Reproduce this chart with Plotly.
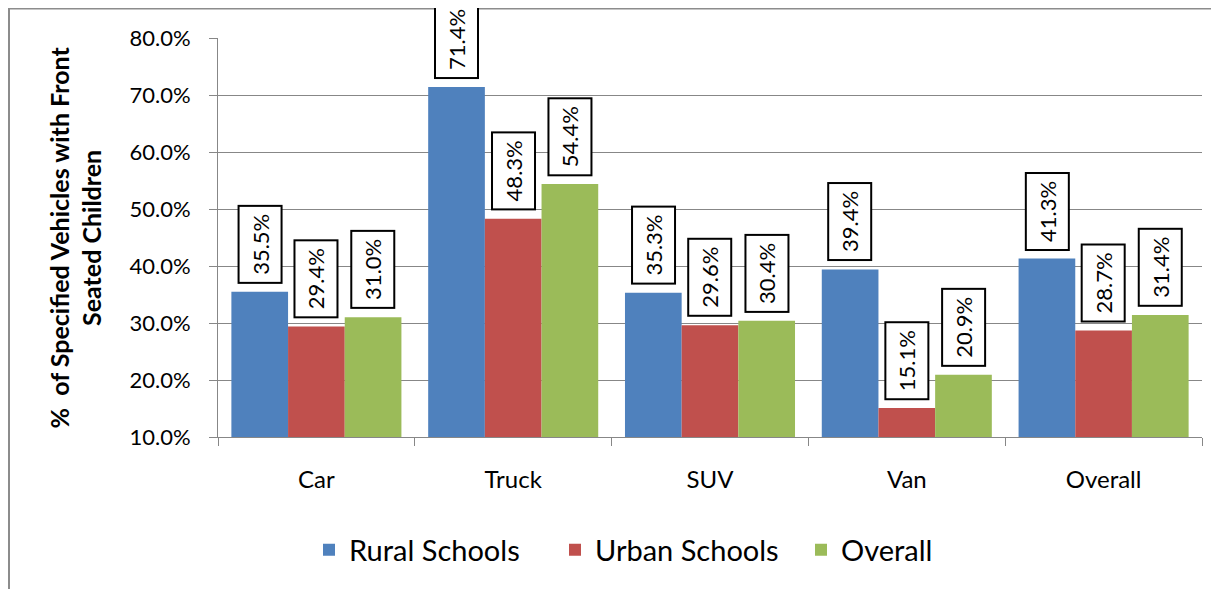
import plotly.graph_objects as go

categories = ["Car", "Truck", "SUV", "Van", "Overall"]
rural = [0.355, 0.714, 0.353, 0.394, 0.413]
urban = [0.294, 0.483, 0.296, 0.151, 0.287]
overall = [0.310, 0.544, 0.304, 0.209, 0.314]
series_names = ["Rural Schools", "Urban Schools", "Overall"]
colors = ["#4F81BD", "#C0504D", "#9BBB59"]
y_ticks = [0.1, 0.2, 0.3, 0.4, 0.5, 0.6, 0.7, 0.8]

# page has an 8px body margin; work in figure coordinates
OFF = 8
W, H = 1219 - OFF, 589 - OFF
L, T = 218 - OFF, 38 - OFF
R = W - (1202 - OFF)
B = H - (437 - OFF)
FONT = "Lato"

fig = go.Figure()
all_series = [rural, urban, overall]
for name, vals, col in zip(series_names, all_series, colors):
    fig.add_trace(go.Bar(
        x=categories, y=vals, name=name,
        marker=dict(color=col, line=dict(width=0)),
    ))

bargap = 0.136
bw = (1 - bargap) / 3
offsets = [-bw, 0, bw]
annotations = []
for k, vals in enumerate(all_series):
    for i, v in enumerate(vals):
        annotations.append(dict(
            x=i + offsets[k], y=v, xref="x", yref="y",
            text=f"{v*100:.1f}%", showarrow=False, textangle=-90,
            xanchor="center", yanchor="bottom", yshift=8,
            font=dict(family=FONT, size=22, color="black"),
            bgcolor="white", bordercolor="black", borderwidth=2, borderpad=7,
        ))

pw = W - L - R
ph = H - T - B
# y axis title as annotation
annotations.append(dict(
    x=(75 - OFF - L) / pw, y=0.5, xref="paper", yref="paper",
    text="<b>%  of Specified Vehicles with Front<br>Seated Children</b>",
    showarrow=False, textangle=-90, xanchor="center", yanchor="middle",
    font=dict(family=FONT, size=25, color="black"),
))

shapes = [dict(
    type="rect", xref="paper", yref="paper",
    x0=(9 - OFF - L) / pw, x1=1.1, y0=-0.6, y1=(H - B - 0.5) / ph,
    line=dict(color="#8C8C8C", width=2), fillcolor="rgba(0,0,0,0)", layer="below",
)]

fig.update_layout(
    width=W, height=H,
    margin=dict(l=L, r=R, t=T, b=B, autoexpand=False),
    paper_bgcolor="white", plot_bgcolor="white",
    barmode="group", bargap=bargap, bargroupgap=0,
    font=dict(family=FONT, color="black"),
    legend=dict(orientation="h", x=(301 - L) / pw, xanchor="left",
                y=(437 - 550) / ph, yanchor="middle",
                font=dict(family=FONT, size=29), entrywidth=201, entrywidthmode="pixels",
                traceorder="normal"),
    annotations=annotations,
    shapes=shapes,
)
fig.update_xaxes(
    type="category", showline=True, linecolor="#878787", linewidth=1,
    ticks="outside", tickson="boundaries", ticklen=8, tickcolor="#878787",
    tickfont=dict(family=FONT, size=24), ticklabelstandoff=21,
    showgrid=False, fixedrange=True,
)
fig.update_yaxes(
    range=[0.1, 0.8], tickvals=y_ticks, tickformat=".1%",
    showline=True, linecolor="#878787", linewidth=1,
    ticks="outside", ticklen=8, tickcolor="#878787",
    tickfont=dict(family=FONT, size=22), ticklabelstandoff=14,
    showgrid=True, gridcolor="#878787", gridwidth=1, zeroline=False,
)

fig.write_html("out.html")
